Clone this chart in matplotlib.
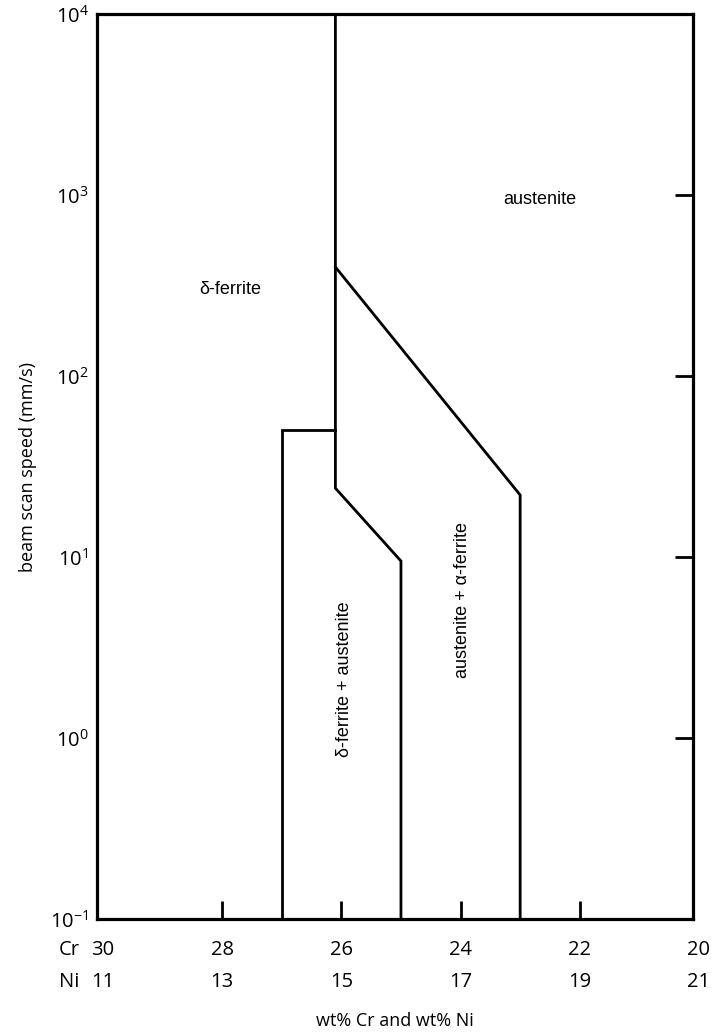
import matplotlib
matplotlib.use("Agg")
import matplotlib.pyplot as plt
import matplotlib.transforms as transforms
from matplotlib.ticker import FixedLocator, NullFormatter, NullLocator

# composition axis (Cr decreasing to the right, Ni increasing)
cr_labels = [30, 28, 26, 24, 22, 20]
ni_labels = [11, 13, 15, 17, 19, 21]
cr_ticks = [28, 26, 24, 22]

# phase boundaries: wt% Cr vs beam scan speed (mm/s)
ferrite_cr = [26.1, 26.1, 25.0, 25.0]
ferrite_v = [1e4, 24, 9.5, 0.1]

alpha_cr = [26.1, 23.0, 23.0]
alpha_v = [400, 22, 0.1]

box_cr = [27.0, 27.0, 26.1]
box_v = [0.1, 50, 50]

phase_names = ["austenite", "δ-ferrite", "δ-ferrite + austenite", "austenite + α-ferrite"]
phase_cr = [22.67, 27.87, 25.94, 23.96]
phase_v = [950, 300, 2.1, 5.8]
phase_rot = [0, 0, 90, 90]

tickfont = "Open Sans"
labfont = "Liberation Sans"

fig = plt.figure(figsize=(7.15, 10.36), dpi=100)
ax = fig.add_axes([97/715, 1-919/1036, (693-97)/715, (919-14)/1036])

ax.set_yscale("log")
ax.set_xlim(30.1, 20.1)
ax.set_ylim(0.1, 1e4)

lw = 2.0
ax.plot(ferrite_cr, ferrite_v, color="black", lw=lw, solid_joinstyle="miter")
ax.plot(alpha_cr, alpha_v, color="black", lw=lw, solid_joinstyle="miter")
ax.plot(box_cr, box_v, color="black", lw=lw, solid_joinstyle="miter")

for name, c, v, r in zip(phase_names, phase_cr, phase_v, phase_rot):
    ax.text(c, v, name, rotation=r, ha="center", va="center",
            fontsize=13, family=labfont)

for sp in ax.spines.values():
    sp.set_linewidth(2.3)

# y ticks: decades, drawn inward on the right, labels on the left
ax.yaxis.set_minor_locator(NullLocator())
ax.set_yticks([1e-1, 1e0, 1e1, 1e2, 1e3, 1e4])
ax.set_yticklabels([r"$\mathregular{10^{%d}}$" % e for e in range(-1, 5)],
                   family=tickfont, fontsize=14.5)
ax.tick_params(axis="y", which="major", direction="in", length=13, width=2.0,
               left=False, right=True, labelleft=True, labelright=False, pad=6)

# x ticks: inward, labels written below in two rows
ax.xaxis.set_major_locator(FixedLocator(cr_ticks))
ax.xaxis.set_major_formatter(NullFormatter())
ax.tick_params(axis="x", direction="in", length=13, width=2.0, top=False)

tr = transforms.blended_transform_factory(ax.transData, fig.transFigure)
for c, n in zip(cr_labels, ni_labels):
    ax.text(c, 1-950/1036, str(c), transform=tr, ha="center", va="center",
            fontsize=14.5, family=tickfont, clip_on=False)
    ax.text(c, 1-982/1036, str(n), transform=tr, ha="center", va="center",
            fontsize=14.5, family=tickfont, clip_on=False)
fig.text(69/715, 1-950/1036, "Cr", ha="center", va="center", fontsize=14.5, family=tickfont)
fig.text(69/715, 1-982/1036, "Ni", ha="center", va="center", fontsize=14.5, family=tickfont)

fig.text(395/715, 1-1021/1036, "wt% Cr and wt% Ni", ha="center", va="center",
         fontsize=13, family=tickfont)
ax.set_ylabel("beam scan speed (mm/s)", fontsize=13, family=tickfont, labelpad=10)

fig.savefig("out.png", dpi=100)
